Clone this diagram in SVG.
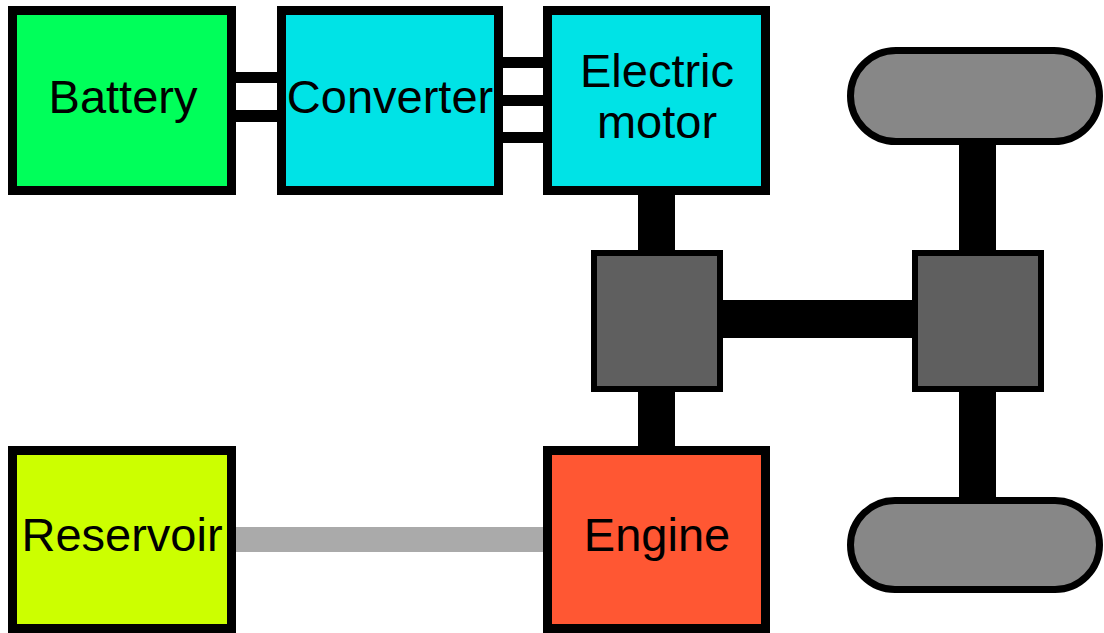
<svg xmlns="http://www.w3.org/2000/svg" width="1104" height="633" viewBox="0 0 1104 633">
<style>
.box{stroke:#000;stroke-width:9}
.gear{fill:#5f5f5f;stroke:#000;stroke-width:6}
.wheel{fill:#878787;stroke:#000;stroke-width:7}
.lbl{font-family:"Liberation Sans",Arial,sans-serif;font-size:47px;fill:#000;text-anchor:middle}
.bar{fill:#000}
</style>
<rect width="1104" height="633" fill="#fff"/>
<g id="connectors">
<rect class="bar" x="232" y="72" width="50" height="11"/>
<rect class="bar" x="232" y="110" width="50" height="12"/>
<rect class="bar" x="499" y="57" width="48" height="11"/>
<rect class="bar" x="499" y="95" width="48" height="11"/>
<rect class="bar" x="499" y="132" width="48" height="11"/>
<rect class="bar" x="638" y="190" width="37" height="64"/>
<rect class="bar" x="638" y="388" width="37" height="62"/>
<rect class="bar" x="719" y="300" width="198" height="38"/>
<rect class="bar" x="959" y="140" width="37" height="114"/>
<rect class="bar" x="959" y="388" width="37" height="113"/>
<rect x="232" y="527" width="315" height="25" fill="#aaaaaa"/>
</g>
<g id="battery"><rect class="box" x="12.5" y="10.5" width="219" height="180" fill="#00ff5a"/><text class="lbl" x="123" y="113">Battery</text></g>
<g id="converter"><rect class="box" x="281.5" y="10.5" width="217" height="180" fill="#00e3e6"/><text class="lbl" x="390" y="113">Converter</text></g>
<g id="motor"><rect class="box" x="547.5" y="10.5" width="218" height="180" fill="#00e3e6"/><text class="lbl" x="657" y="87">Electric</text><text class="lbl" x="657" y="138">motor</text></g>
<g id="gearbox"><rect class="gear" x="594" y="253" width="126" height="136"/></g>
<g id="differential"><rect class="gear" x="915" y="253" width="126" height="136"/></g>
<g id="wheel-front"><rect class="wheel" x="850.5" y="50.5" width="249" height="91" rx="45.5"/></g>
<g id="wheel-rear"><rect class="wheel" x="850.5" y="500.5" width="249" height="89" rx="44.5"/></g>
<g id="reservoir"><rect class="box" x="12.5" y="450.5" width="219" height="178" fill="#ccff00"/><text class="lbl" x="122" y="551">Reservoir</text></g>
<g id="engine"><rect class="box" x="547.5" y="450.5" width="218" height="178" fill="#ff5733"/><text class="lbl" x="657" y="551">Engine</text></g>
</svg>
